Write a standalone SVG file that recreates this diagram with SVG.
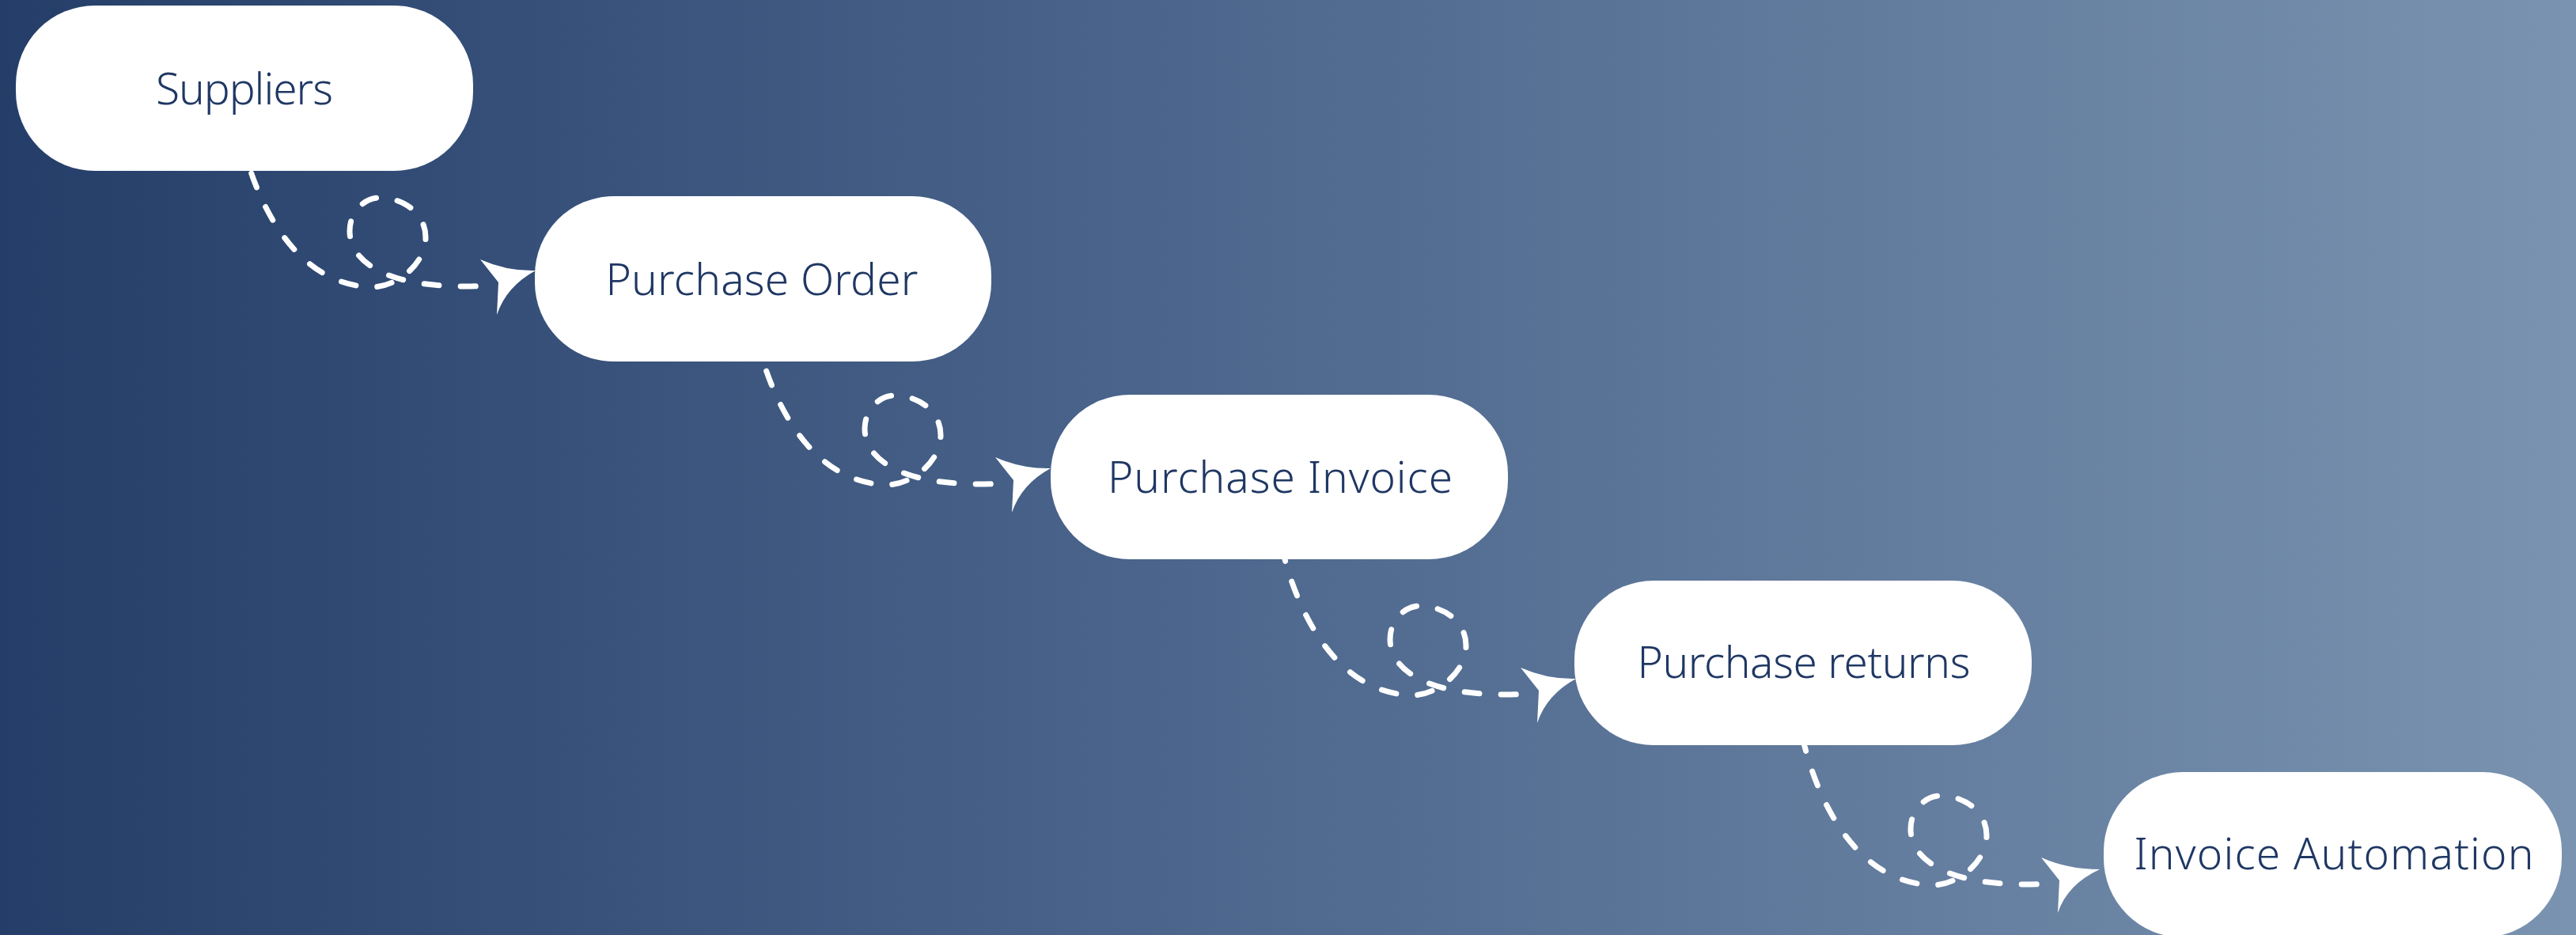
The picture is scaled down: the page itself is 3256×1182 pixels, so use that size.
<svg xmlns="http://www.w3.org/2000/svg" width="3256" height="1182" viewBox="0 0 3256 1182">
  <defs>
    <linearGradient id="bg" x1="0" y1="0" x2="1" y2="0">
      <stop offset="0" stop-color="#243E69"/>
      <stop offset="0.5" stop-color="#4F698F"/>
      <stop offset="1" stop-color="#7A93B0"/>
    </linearGradient>
    <style>
      .box { fill: #FFFFFF; }
      .label { font-family: "Noto Sans", "Liberation Sans", sans-serif; font-size: 55px; font-weight: 300; fill: #1F3763; text-anchor: middle; }
      .dash { fill: none; stroke: #FFFFFF; stroke-width: 7; stroke-linecap: round; stroke-dasharray: 19 27; }
      .head { fill: #FFFFFF; stroke: none; }
    </style>
  </defs>

  <rect x="0" y="0" width="3256" height="1182" fill="url(#bg)"/>

  <g id="connectors">
    <g id="conn-1" transform="translate(0,0)">
      <path class="dash" d="M305,175 C322,250 370,360 470,363 C500,363 538,335 538,300 C538,270 510,250 480,250 C460,250 442,268 442,292 C442,322 470,345 515,355 C545,362 590,364 628,360"/>
      <path class="head" d="M607,328 Q641,343 677,342 Q640,362 628,398 L630,357 Z"/>
    </g>
    <g id="conn-2" transform="translate(651,250)">
      <path class="dash" d="M305,175 C322,250 370,360 470,363 C500,363 538,335 538,300 C538,270 510,250 480,250 C460,250 442,268 442,292 C442,322 470,345 515,355 C545,362 590,364 628,360"/>
      <path class="head" d="M607,328 Q641,343 677,342 Q640,362 628,398 L630,357 Z"/>
    </g>
    <g id="conn-3" transform="translate(1315,516)">
      <path class="dash" d="M305,175 C322,250 370,360 470,363 C500,363 538,335 538,300 C538,270 510,250 480,250 C460,250 442,268 442,292 C442,322 470,345 515,355 C545,362 590,364 628,360"/>
      <path class="head" d="M607,328 Q641,343 677,342 Q640,362 628,398 L630,357 Z"/>
    </g>
    <g id="conn-4" transform="translate(1973,756)">
      <path class="dash" d="M305,175 C322,250 370,360 470,363 C500,363 538,335 538,300 C538,270 510,250 480,250 C460,250 442,268 442,292 C442,322 470,345 515,355 C545,362 590,364 628,360"/>
      <path class="head" d="M607,328 Q641,343 681,343 Q640,362 628,398 L630,357 Z"/>
    </g>
  </g>

  <g id="node-suppliers">
    <rect class="box" x="20" y="7" width="578" height="209" rx="100" ry="100"/>
    <text class="label" x="309" y="132" textLength="224" lengthAdjust="spacing">Suppliers</text>
  </g>
  <g id="node-purchase-order">
    <rect class="box" x="676" y="248" width="577" height="209" rx="100" ry="100"/>
    <text class="label" x="963" y="373" textLength="395" lengthAdjust="spacing">Purchase Order</text>
  </g>
  <g id="node-purchase-invoice">
    <rect class="box" x="1328" y="499" width="578" height="208" rx="100" ry="100"/>
    <text class="label" x="1618" y="623" textLength="436" lengthAdjust="spacing">Purchase Invoice</text>
  </g>
  <g id="node-purchase-returns">
    <rect class="box" x="1990" y="734" width="578" height="208" rx="100" ry="100"/>
    <text class="label" x="2280" y="857" textLength="421" lengthAdjust="spacing">Purchase returns</text>
  </g>
  <g id="node-invoice-automation">
    <rect class="box" x="2659" y="976" width="579" height="209" rx="100" ry="100"/>
    <text class="label" x="2950" y="1099" textLength="505" lengthAdjust="spacing">Invoice Automation</text>
  </g>
</svg>
